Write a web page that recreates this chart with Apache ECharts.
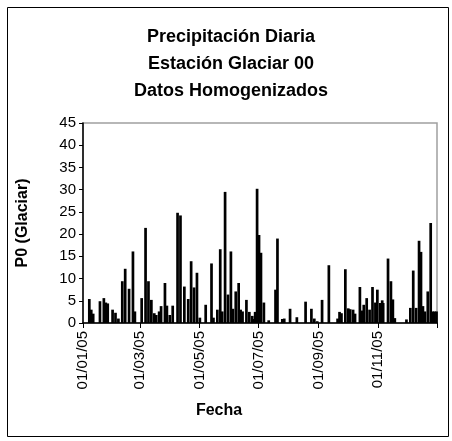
<!DOCTYPE html>
<html>
<head>
<meta charset="utf-8">
<script src="https://cdn.jsdelivr.net/npm/echarts@6/dist/echarts.min.js"></script>
<style>
  html, body { margin: 0; padding: 0; background: #fff; }
  #grafico { width: 452px; height: 441px; }
</style>
</head>
<body>
<div id="grafico"></div>
<script>
// precipitacion diaria 2005 (mm), un arreglo por mes
var ene = [0,0,0,0,0,0,5.4,0,3.0,0,2.1,0,0,0,0,0,0,4.9,0,0,0,5.6,0,4.6,0,4.4,0,0,0,0,3.0];
var feb = [0,0,2.3,0,0,1.0,0,0,0,9.4,0,0,12.2,0,0,0,7.7,0,0,0,16.1,0,2.6,0,0,0,0,0];
var mar = [0,5.6,0,0,0,21.4,0,0,9.4,0,0,5.2,0,0,2.2,0,1.8,0,0,2.6,0,3.8,0,0,0,9.0,0,3.9,0,0,1.8];
var abr = [0,0,3.9,0,0,0,0,24.8,0,0,24.2,0,0,0,8.2,0,0,0,5.4,0,0,13.9,0,0,8.0,0,0,11.3,0,0];
var may = [1.2,0,0,0,0,0,4.1,0,0,0,0,0,13.4,0,1.2,0,0,0,3.0,0,0,16.6,0,2.6,0,0,29.5,0,0,6.4,0];
var jun = [0,16.1,0,3.2,0,0,7.1,0,0,9.0,0,3.0,0,2.6,0,0,0,5.2,0,0,2.5,0,0,1.6,0,0.9,2.5,0,30.2,0];
var jul = [19.8,0,15.8,0,0,4.6,0,0,0,0,0.6,0,0,0,0,0,0,7.5,0,19.0,0,0,0,0,0.9,0,1.0,0,0,0,0];
var ago = [0,3.2,0,0,0,0,0,0,1.3,0,0,0,0,0,0,0,0,4.8,0,0,0,0,0,3.2,0,0,1.0,0,0,0.4,0];
var sep = [0,0,0,5.2,0,0,0,0,0,0,13.0,0,0,0,0,0,0,0,0,1.0,0,2.5,0,2.2,0,0,0,12.1,0,0];
var oct = [3.3,0,3.1,0,0,3.0,0,2.1,0,0,0,0,8.1,0,2.8,0,4.1,0,0,5.6,0,0,3.0,0,0,8.1,0,0,4.6,0,7.5];
var nov = [0,0,4.5,0,5.1,4.5,0,0,0,0,14.5,0,0,9.4,0,5.3,0,1.1,0,0,0,0,0,0,0,0,0,0,0,0.8];
var dic = [0,0,0,3.4,0,0,11.8,0,0,3.4,0,0,18.5,0,16.0,0,3.8,0,2.6,0,0,7.1,0,0,22.5,0,2.6,0,2.6,0,2.6];

// marcas del eje de fechas (dia del año)
var diasMarca = [0, 59, 120, 181, 243, 304, 365];
var etiquetasFecha = ['01/01/05', '01/03/05', '01/05/05', '01/07/05', '01/09/05', '01/11/05'];
var marcasY = [0, 5, 10, 15, 20, 25, 30, 35, 40, 45];

var meses = [ene, feb, mar, abr, may, jun, jul, ago, sep, oct, nov, dic];
var datos = [];
var dia = 0;
for (var m = 0; m < meses.length; m++) {
  for (var i = 0; i < meses[m].length; i++) {
    datos.push([dia + 0.5, meses[m][i]]);
    dia++;
  }
}

var fuente = 'Liberation Sans, Arial, sans-serif';
var myChart = echarts.init(document.getElementById('grafico'), null, { renderer: 'canvas' });

var option = {
  animation: false,
  backgroundColor: '#fff',
  title: {
    text: 'Precipitación Diaria\nEstación Glaciar 00\nDatos Homogenizados',
    left: 226,
    top: 19,
    textAlign: 'center',
    textStyle: {
      fontFamily: fuente, fontSize: 18, fontWeight: 'bold', color: '#000', lineHeight: 27
    }
  },
  grid: {
    left: 83, right: 15, top: 123, bottom: 118,
    show: true, borderColor: '#a0a0a0', borderWidth: 1.5, backgroundColor: '#fff'
  },
  xAxis: {
    type: 'value',
    min: 0, max: 365,
    splitLine: { show: false },
    axisLine: { show: true, lineStyle: { color: '#000', width: 1.5 } },
    axisTick: { show: true, length: 5, lineStyle: { color: '#000' }, customValues: diasMarca },
    axisLabel: {
      customValues: diasMarca.slice(0, 6),
      rotate: 90, margin: 8,
      fontFamily: fuente, fontSize: 15, color: '#000',
      formatter: function (v) {
        var k = diasMarca.indexOf(v);
        return k >= 0 && k < etiquetasFecha.length ? etiquetasFecha[k] : '';
      }
    }
  },
  yAxis: {
    type: 'value',
    min: 0, max: 45, interval: 5,
    name: 'P0 (Glaciar)',
    nameLocation: 'middle', nameRotate: 90, nameGap: 52,
    nameTextStyle: { fontFamily: fuente, fontSize: 16, fontWeight: 'bold', color: '#000' },
    splitLine: { show: false },
    axisLine: { show: true, lineStyle: { color: '#000', width: 1.5 } },
    axisTick: { show: true, inside: false, length: 4, lineStyle: { color: '#000' } },
    axisLabel: {
      fontFamily: fuente, fontSize: 15, color: '#000', margin: 7,
      formatter: function (v) { return marcasY.indexOf(v) >= 0 ? String(v) : ''; }
    }
  },
  graphic: [
    {
      type: 'rect', left: 5, top: 5, z: -1,
      shape: { width: 441, height: 429 },
      style: { fill: 'none', stroke: '#000', lineWidth: 1 }
    },
    {
      type: 'text', x: 219, y: 411,
      style: {
        text: 'Fecha', fontFamily: fuente, fontSize: 16, fontWeight: 'bold',
        fill: '#000', align: 'center', verticalAlign: 'middle'
      }
    }
  ],
  series: [
    {
      type: 'bar',
      name: 'P0 (Glaciar)',
      data: datos,
      barWidth: 2.7,
      itemStyle: { color: '#000' },
      emphasis: { disabled: true }
    }
  ]
};

myChart.setOption(option);
</script>
</body>
</html>
